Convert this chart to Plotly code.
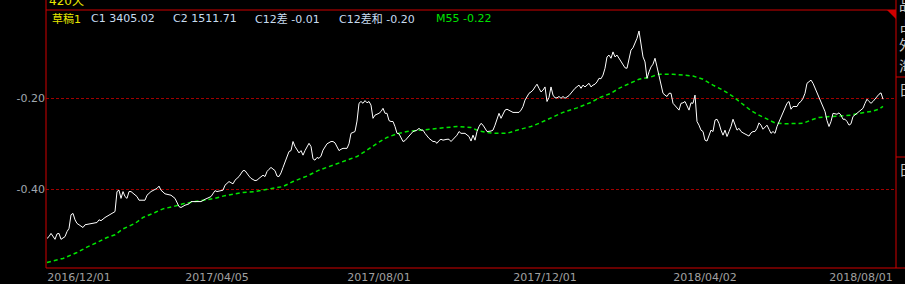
import plotly.graph_objects as go

# ---- data (trading-day index, value) ----
white_day = [0,1,2,4,5,6,7,9,10,11,12,13,14,15,17,18,19,22,25,26,27,29,32,34,35,36,37,38,39,40,41,42,45,46,49,50,52,55,56,57,59,62,64,66,67,69,71,72,74,77,79,82,84,85,88,89,91,93,94,96,98,99,101,102,104,105,106,108,109,110,111,112,114,115,116,117,118,119,120,121,122,123,124,125,126,127,128,129,130,131,132,133,134,135,136,137,138,139,140,142,143,144,145,146,147,148,150,151,152,154,155,156,157,158,159,160,161,162,163,164,166,167,168,169,170,171,172,173,174,175,176,177,178,179,180,181,182,183,185,186,187,188,189,190,191,193,194,195,196,197,198,200,201,202,203,205,206,207,209,210,211,212,213,214,215,216,217,218,219,220,222,223,224,225,226,227,228,229,230,231,232,233,235,236,237,238,239,240,241,242,243,244,245,246,247,248,249,250,251,252,253,254,255,256,257,258,259,261,262,263,264,266,267,268,269,271,272,273,274,275,276,277,278,279,280,281,282,283,284,285,286,287,288,289,290,291,292,293,294,295,296,297,298,299,300,301,302,303,304,305,306,307,308,309,310,311,312,313,315,316,317,318,319,320,321,322,323,324,325,326,327,328,329,330,331,332,333,334,335,336,337,338,339,340,341,342,343,344,345,346,347,348,349,351,352,353,354,355,356,357,358,360,361,362,363,364,365,366,367,368,369,370,371,372,373,375,376,377,378,379,380,381,382,383,384,385,386,387,388,389,390,391,392,393,395,396,397,398,399,400,401,402,403,405,406,407,408,409,410,411,412,413,414,415,416,417,418]
white_val = [-0.508,-0.504,-0.497,-0.510,-0.498,-0.497,-0.510,-0.504,-0.493,-0.486,-0.456,-0.453,-0.467,-0.475,-0.481,-0.484,-0.478,-0.475,-0.473,-0.467,-0.469,-0.462,-0.454,-0.449,-0.405,-0.402,-0.420,-0.405,-0.416,-0.420,-0.405,-0.405,-0.416,-0.424,-0.424,-0.413,-0.405,-0.398,-0.393,-0.402,-0.410,-0.413,-0.420,-0.438,-0.440,-0.435,-0.432,-0.427,-0.427,-0.427,-0.422,-0.416,-0.403,-0.405,-0.402,-0.391,-0.383,-0.388,-0.380,-0.372,-0.359,-0.359,-0.371,-0.376,-0.381,-0.380,-0.376,-0.369,-0.372,-0.361,-0.356,-0.352,-0.359,-0.371,-0.372,-0.364,-0.352,-0.339,-0.330,-0.317,-0.315,-0.295,-0.306,-0.314,-0.320,-0.315,-0.325,-0.315,-0.306,-0.299,-0.306,-0.333,-0.336,-0.330,-0.332,-0.327,-0.314,-0.306,-0.300,-0.295,-0.295,-0.298,-0.306,-0.315,-0.312,-0.310,-0.310,-0.300,-0.277,-0.273,-0.250,-0.211,-0.207,-0.211,-0.205,-0.210,-0.207,-0.215,-0.244,-0.237,-0.233,-0.229,-0.222,-0.233,-0.233,-0.249,-0.251,-0.251,-0.262,-0.277,-0.278,-0.288,-0.295,-0.293,-0.288,-0.281,-0.276,-0.273,-0.270,-0.266,-0.270,-0.270,-0.277,-0.284,-0.288,-0.295,-0.295,-0.299,-0.293,-0.290,-0.292,-0.290,-0.290,-0.295,-0.290,-0.281,-0.273,-0.277,-0.277,-0.281,-0.284,-0.294,-0.281,-0.292,-0.273,-0.262,-0.255,-0.259,-0.266,-0.273,-0.272,-0.270,-0.259,-0.248,-0.233,-0.244,-0.233,-0.226,-0.224,-0.226,-0.228,-0.231,-0.231,-0.231,-0.226,-0.218,-0.204,-0.196,-0.189,-0.186,-0.182,-0.175,-0.169,-0.178,-0.186,-0.182,-0.175,-0.207,-0.198,-0.175,-0.193,-0.199,-0.199,-0.196,-0.200,-0.196,-0.200,-0.194,-0.189,-0.182,-0.178,-0.171,-0.178,-0.171,-0.175,-0.167,-0.175,-0.171,-0.169,-0.164,-0.156,-0.157,-0.149,-0.134,-0.109,-0.105,-0.112,-0.098,-0.109,-0.105,-0.112,-0.120,-0.127,-0.133,-0.134,-0.112,-0.094,-0.089,-0.079,-0.068,-0.052,-0.083,-0.109,-0.120,-0.156,-0.142,-0.131,-0.125,-0.112,-0.131,-0.149,-0.167,-0.189,-0.193,-0.196,-0.189,-0.189,-0.211,-0.222,-0.226,-0.211,-0.210,-0.207,-0.215,-0.226,-0.210,-0.211,-0.193,-0.251,-0.259,-0.270,-0.273,-0.292,-0.294,-0.284,-0.270,-0.273,-0.248,-0.246,-0.255,-0.270,-0.281,-0.270,-0.284,-0.273,-0.262,-0.246,-0.259,-0.270,-0.266,-0.273,-0.276,-0.278,-0.283,-0.276,-0.273,-0.273,-0.266,-0.254,-0.259,-0.268,-0.259,-0.268,-0.277,-0.273,-0.277,-0.262,-0.251,-0.244,-0.233,-0.222,-0.211,-0.207,-0.224,-0.218,-0.218,-0.210,-0.207,-0.200,-0.189,-0.167,-0.164,-0.160,-0.167,-0.178,-0.189,-0.200,-0.211,-0.218,-0.229,-0.249,-0.262,-0.251,-0.233,-0.235,-0.232,-0.237,-0.246,-0.246,-0.251,-0.259,-0.256,-0.240,-0.233,-0.229,-0.227,-0.222,-0.211,-0.202,-0.207,-0.211,-0.207,-0.202,-0.195,-0.191,-0.188,-0.202]

ma_day = [0,8,15,20,25,30,34,38,44,48,54,58,64,68,74,78,84,88,94,98,104,112,118,123,130,136,143,150,155,160,165,170,175,180,185,192,198,205,212,216,223,230,235,242,246,252,258,265,272,276,282,286,292,296,302,306,313,318,323,328,333,338,343,347,352,356,360,364,368,373,378,382,386,392,396,402,406,412,416,418]
ma_val = [-0.561,-0.552,-0.539,-0.527,-0.517,-0.506,-0.500,-0.487,-0.475,-0.462,-0.451,-0.443,-0.437,-0.432,-0.427,-0.424,-0.420,-0.415,-0.411,-0.407,-0.405,-0.398,-0.394,-0.383,-0.371,-0.358,-0.347,-0.336,-0.328,-0.314,-0.299,-0.286,-0.278,-0.273,-0.271,-0.268,-0.266,-0.262,-0.264,-0.272,-0.277,-0.277,-0.270,-0.262,-0.255,-0.243,-0.231,-0.221,-0.209,-0.199,-0.189,-0.178,-0.167,-0.158,-0.153,-0.147,-0.147,-0.149,-0.151,-0.158,-0.171,-0.182,-0.196,-0.210,-0.227,-0.237,-0.246,-0.254,-0.256,-0.256,-0.255,-0.248,-0.242,-0.240,-0.239,-0.237,-0.233,-0.229,-0.224,-0.218]

tick_days = [0, 69, 150, 233, 313, 391]
tick_labels = ["2016/12/01", "2017/04/05", "2017/08/01", "2017/12/01", "2018/04/02", "2018/08/01"]
ytick_vals = [-0.20, -0.40]
ytick_text = ["-0.20", "-0.40"]

header_texts = ["草稿1", "C1 3405.02", "C2 1511.71", "C12差 -0.01", "C12差和 -0.20", "M55 -0.22"]
header_colors = ["#e8e800", "#c8dcf0", "#c8dcf0", "#c8dcf0", "#c8dcf0", "#00e000"]
header_px = [50, 89, 171, 253, 337, 434]
side_chars = ["品", "占", "外", "海", "日", "日"]
side_py = [4, 25, 44, 65, 89, 169]

FONT = "DejaVu Sans, Noto Sans CJK SC, sans-serif"
RED = "#d00000"
W, H = 905, 284
L, R, T, B = 46, 896, 10, 268

def px_x(p):
    return (p - L) / (R - L)

def px_y(p):
    return (B - p) / (B - T)

fig = go.Figure()
fig.add_trace(go.Scatter(x=ma_day, y=ma_val, mode="lines",
                         line=dict(color="#00e600", width=1.5, dash="4px,3px"),
                         hoverinfo="skip"))
fig.add_trace(go.Scatter(x=white_day, y=white_val, mode="lines",
                         line=dict(color="#ffffff", width=1),
                         hoverinfo="skip"))

shapes = [
    dict(type="line", xref="paper", yref="paper", x0=0, x1=0, y0=0, y1=px_y(0), line=dict(color=RED, width=1)),
    dict(type="line", xref="paper", yref="paper", x0=0, x1=1, y0=1, y1=1, line=dict(color=RED, width=1)),
    dict(type="line", xref="paper", yref="paper", x0=1, x1=1, y0=0, y1=px_y(0), line=dict(color=RED, width=1)),
    dict(type="line", xref="paper", yref="paper", x0=0, x1=px_x(W), y0=0, y1=0, line=dict(color=RED, width=1)),
    dict(type="line", xref="paper", yref="paper", x0=1, x1=px_x(W), y0=px_y(77), y1=px_y(77), line=dict(color=RED, width=1)),
    dict(type="line", xref="paper", yref="paper", x0=1, x1=px_x(W), y0=px_y(157), y1=px_y(157), line=dict(color=RED, width=1)),
    dict(type="path", xref="paper", yref="paper",
         path=f"M {px_x(887)} 1 L 1 1 L 1 {px_y(19)} Z",
         fillcolor=RED, line=dict(color=RED, width=0)),
]

annotations = []
for t, c, p in zip(header_texts, header_colors, header_px):
    annotations.append(dict(text=t, xref="paper", yref="paper", x=px_x(p), y=px_y(19),
                            xanchor="left", yanchor="middle", showarrow=False,
                            font=dict(family=FONT, size=11, color=c)))
annotations.append(dict(text="420天", xref="paper", yref="paper", x=px_x(47), y=px_y(1),
                        xanchor="left", yanchor="middle", showarrow=False,
                        font=dict(family=FONT, size=12, color="#e8e800")))
for ch, py in zip(side_chars, side_py):
    annotations.append(dict(text=ch, xref="paper", yref="paper", x=px_x(897), y=px_y(py),
                            xanchor="left", yanchor="middle", showarrow=False,
                            font=dict(family="Noto Sans CJK SC", size=14, color="#c8c8c8")))

fig.update_layout(
    width=W, height=H,
    margin=dict(l=L, r=W - R, t=T, b=H - B, pad=0, autoexpand=False),
    paper_bgcolor="black", plot_bgcolor="black",
    showlegend=False,
    shapes=shapes, annotations=annotations,
    xaxis=dict(range=[-0.5, 424.5], showgrid=False, zeroline=False, showline=False,
               automargin=False,
               tickmode="array", tickvals=tick_days, ticktext=tick_labels,
               ticks="", ticklabelshift=32, ticklabelstandoff=1,
               tickfont=dict(family=FONT, size=11, color="#a0a0a0")),
    yaxis=dict(range=[-0.573, -0.0059], showgrid=True, gridcolor="#a00000", gridwidth=1,
               griddash="3px,2px", zeroline=False, showline=False, automargin=False,
               tickmode="array", tickvals=ytick_vals, ticktext=ytick_text, ticks="",
               tickfont=dict(family=FONT, size=11, color="#a0a8b0")),
)

fig.write_html("out.html")
